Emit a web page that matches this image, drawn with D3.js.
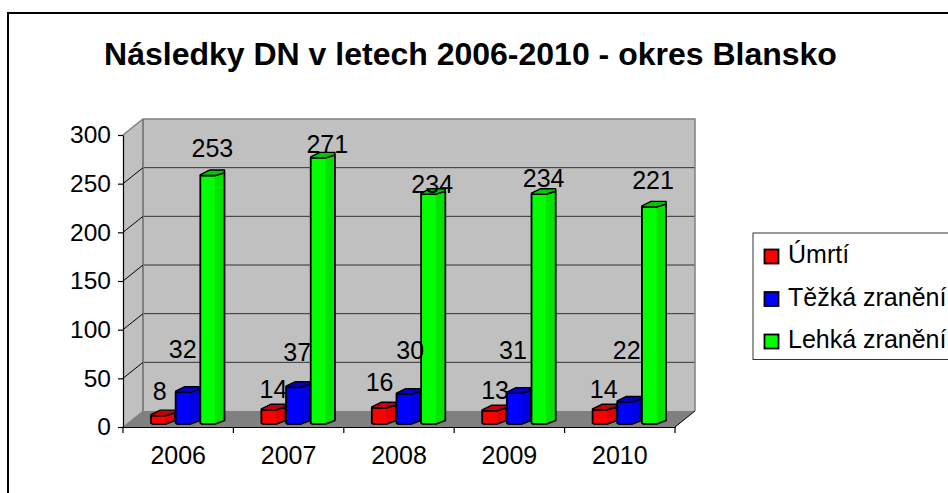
<!DOCTYPE html>
<html>
<head>
<meta charset="utf-8">
<script src="https://cdnjs.cloudflare.com/ajax/libs/d3/7.8.5/d3.min.js"></script>
<style>
  html, body { margin: 0; padding: 0; background: #fff; overflow: hidden; }
  text { font-family: "Liberation Sans", Arial, sans-serif; fill: #000; }
</style>
</head>
<body>
<svg id="chart" width="948" height="493"></svg>
<script>
const years = ['2006', '2007', '2008', '2009', '2010'];
const seriesNames = ['Úmrtí', 'Těžká zranění', 'Lehká zranění'];
const umrti = [8, 14, 16, 13, 14];
const tezka = [32, 37, 30, 31, 22];
const lehka = [253, 271, 234, 234, 221];
const yTicks = [0, 50, 100, 150, 200, 250, 300];
const titleText = 'Následky DN v letech 2006-2010 - okres Blansko';

// the data labels were dragged by hand in the original: dx/dy from the default spot
const nudgeUmrti = [[-3.5, -3.7], [0, 0], [-4.3, -4.8], [0.8, 0], [-1, 0]];
const nudgeTezka = [[-5, -22], [-1, -14], [1.7, -23], [-6, -22], [-2.6, -31]];
const nudgeLehka = [[0, -6.6], [4.5, 7], [-1, 10.5], [0, 4.5], [-1, -5.9]];

const colors = [
  { body: '#ff0000', shade: '#e40000', cap: '#c80000' },
  { body: '#0000ff', shade: '#0000e4', cap: '#0000c8' },
  { body: '#00ff00', shade: '#00e400', cap: '#00c800' }
];

const svg = d3.select('#chart');
const depthX = 20, depthY = 16;
const plot = { left: 123, right: 675, bottom: 427, top: 135 };

const x = d3.scaleBand().domain(years).range([plot.left, plot.right]);
const y = d3.scaleLinear().domain([0, 300]).range([plot.bottom, plot.top]);
// bars stand part way into the floor
const barY = d3.scaleLinear().domain([0, 300]).range([423.5, 129.5]);
const xSeries = d3.scaleBand().domain(d3.range(3)).range([28, 101.5]).paddingInner(0.02);

// outer frame, runs off the right and bottom of the picture
svg.append('rect')
  .attr('x', 8).attr('y', 13).attr('width', 1000).attr('height', 600)
  .attr('fill', '#fff').attr('stroke', '#000').attr('stroke-width', 2);

svg.append('text')
  .attr('x', 470.5).attr('y', 64.5)
  .attr('text-anchor', 'middle')
  .attr('font-size', 32).attr('font-weight', 700)
  .text(titleText);

// walls and floor
const wallColor = '#c0c0c0', edgeColor = '#808080';
svg.append('polygon')
  .attr('points', [
    [plot.left, y(0)], [plot.left + depthX, y(0) - depthY],
    [plot.left + depthX, y(300) - depthY], [plot.left, y(300)]
  ].join(' '))
  .attr('fill', wallColor);
svg.append('polygon')
  .attr('points', [
    [plot.left, y(0)], [plot.right, y(0)],
    [plot.right + depthX, y(0) - depthY], [plot.left + depthX, y(0) - depthY]
  ].join(' '))
  .attr('fill', edgeColor);
svg.append('rect')
  .attr('x', plot.left + depthX).attr('y', y(300) - depthY)
  .attr('width', plot.right - plot.left).attr('height', y(0) - y(300))
  .attr('fill', wallColor);

svg.append('g').selectAll('line')
  .data(yTicks.slice(1, -1))
  .enter().append('line')
  .attr('x1', plot.left + depthX).attr('x2', plot.right + depthX)
  .attr('y1', d => y(d) - depthY).attr('y2', d => y(d) - depthY)
  .attr('stroke', '#333').attr('stroke-width', 1);

svg.append('path')
  .attr('d', `M${plot.left},${y(300)}L${plot.left + depthX},${y(300) - depthY}`
    + `H${plot.right + depthX}V${y(0) - depthY}`)
  .attr('fill', 'none').attr('stroke', edgeColor).attr('stroke-width', 1.5);
svg.append('line')
  .attr('x1', plot.left + depthX).attr('x2', plot.left + depthX)
  .attr('y1', y(300) - depthY).attr('y2', y(0) - depthY)
  .attr('stroke', edgeColor).attr('stroke-width', 2);

// diagonals on the side wall and floor edge
svg.append('g').selectAll('line')
  .data(yTicks.slice(0, -1))
  .enter().append('line')
  .attr('x1', plot.left).attr('x2', plot.left + depthX)
  .attr('y1', d => y(d)).attr('y2', d => y(d) - depthY)
  .attr('stroke', d => d === 0 ? edgeColor : '#000').attr('stroke-width', 1);
svg.append('line')
  .attr('x1', plot.right).attr('x2', plot.right + depthX)
  .attr('y1', y(0)).attr('y2', y(0) - depthY)
  .attr('stroke', '#000').attr('stroke-width', 1);

// gradient per series: bright left face, darker right face
colors.forEach((c, i) => {
  const g = svg.append('defs').append('linearGradient').attr('id', `cyl${i}`);
  g.append('stop').attr('offset', '0%').attr('stop-color', c.body);
  g.append('stop').attr('offset', '58%').attr('stop-color', c.body);
  g.append('stop').attr('offset', '62%').attr('stop-color', c.shade);
  g.append('stop').attr('offset', '100%').attr('stop-color', c.shade);
});

const bars = [];
[umrti, tezka, lehka].forEach((values, s) => {
  values.forEach((v, i) => bars.push({ s, i, v, year: years[i] }));
});

const barW = xSeries.bandwidth();

const barG = svg.append('g').selectAll('g')
  .data(bars)
  .enter().append('g')
  .attr('transform', d => `translate(${x(d.year) + xSeries(d.s)},0)`);

// prism body with a chamfered foot, then the tilted top face
barG.append('path')
  .attr('d', d => {
    const t = barY(d.v), b = barY(0) + 0.5;
    return `M0,${t}V${b - 1}L1.5,${b}H${barW * 0.62}L${barW},${b - 3.5}`
      + `V${t - 3}L${barW * 0.6},${t}Z`;
  })
  .attr('fill', d => `url(#cyl${d.s})`)
  .attr('stroke', '#000').attr('stroke-width', 1.8).attr('stroke-linejoin', 'round');

barG.append('path')
  .attr('d', d => {
    const t = barY(d.v);
    return `M0,${t - 1}L${barW * 0.38},${t - 5.5}H${barW}V${t - 3}L${barW * 0.6},${t}H0Z`;
  })
  .attr('fill', d => colors[d.s].cap)
  .attr('stroke', '#000').attr('stroke-width', 1.4).attr('stroke-linejoin', 'round');

// data labels
const nudges = [nudgeUmrti, nudgeTezka, nudgeLehka];
svg.append('g').selectAll('text')
  .data(bars)
  .enter().append('text')
  .attr('x', d => x(d.year) + xSeries(d.s) + barW / 2 + nudges[d.s][d.i][0])
  .attr('y', d => barY(d.v) - 12 + nudges[d.s][d.i][1])
  .attr('text-anchor', 'middle')
  .attr('font-size', 25)
  .text(d => d.v);

// axes
const yAxis = svg.append('g')
  .attr('transform', `translate(${plot.left},0)`)
  .call(d3.axisLeft(y).tickValues(yTicks).tickSize(5).tickSizeOuter(0).tickPadding(7));
const xAxis = svg.append('g')
  .attr('transform', `translate(0,${plot.bottom})`)
  .call(d3.axisBottom(x).tickSize(0).tickPadding(19));
xAxis.append('g').selectAll('line')
  .data(d3.range(years.length + 1))
  .enter().append('line')
  .attr('x1', i => plot.left + i * x.bandwidth()).attr('x2', i => plot.left + i * x.bandwidth())
  .attr('y1', 0).attr('y2', 6)
  .attr('stroke', '#000');
yAxis.selectAll('text').attr('font-size', 24.5);
xAxis.selectAll('text').attr('font-size', 25);
[yAxis, xAxis].forEach(a => {
  a.selectAll('text').attr('font-family', '"Liberation Sans", Arial, sans-serif').attr('fill', '#000');
  a.selectAll('path,line').attr('stroke', '#000').attr('stroke-width', 1.2);
});

// legend box runs off the right edge like the original
const legend = svg.append('g').attr('transform', 'translate(753,233)');
legend.append('rect')
  .attr('width', 300).attr('height', 126.5)
  .attr('fill', '#fff').attr('stroke', '#333').attr('stroke-width', 1);
const legendRows = legend.selectAll('g.row')
  .data(seriesNames)
  .enter().append('g')
  .attr('class', 'row')
  .attr('transform', (d, i) => `translate(0,${i * 42.5})`);
legendRows.append('rect')
  .attr('x', 11.5).attr('y', 16.5).attr('width', 14).attr('height', 14)
  .attr('fill', (d, i) => colors[i].body)
  .attr('stroke', '#000').attr('stroke-width', 1.8);
legendRows.append('text')
  .attr('x', 35).attr('y', 30)
  .attr('font-size', 25)
  .text(d => d);
</script>
</body>
</html>
